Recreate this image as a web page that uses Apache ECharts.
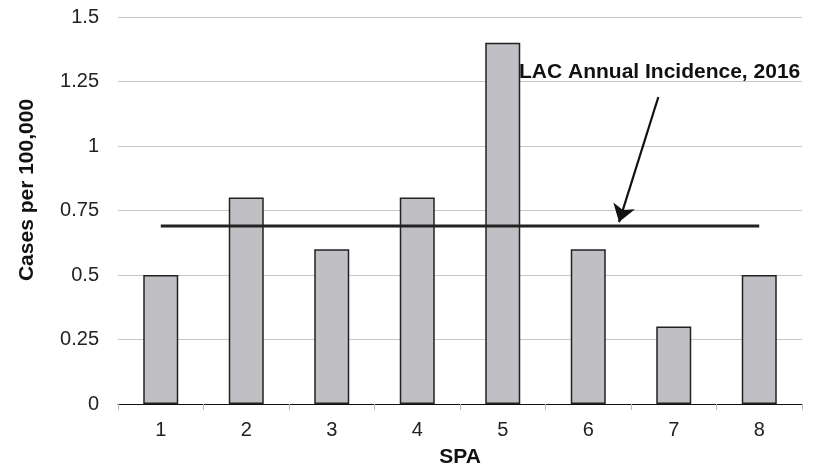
<!DOCTYPE html>
<html><head><meta charset="utf-8">
<script src="https://cdn.jsdelivr.net/npm/echarts@6/dist/echarts.min.js"></script>
<style>html,body{margin:0;padding:0;background:#fff}#c{width:813px;height:470px}</style>
</head><body><div id="c"></div>
<script>
const categories = ['1','2','3','4','5','6','7','8'];
const casesPer100k = [0.5, 0.8, 0.6, 0.8, 1.4, 0.6, 0.3, 0.5];
const lacAnnualIncidence = 0.69;
const yTicks = [0, 0.25, 0.5, 0.75, 1, 1.25, 1.5];
const annotationText = 'LAC Annual Incidence, 2016';
// arrow in data space (category position, value)
const arrowFrom = [5.82, 1.19];
const arrowTo = [5.36, 0.705];

const FONT = '"Liberation Sans", Arial, sans-serif';
const chart = echarts.init(document.getElementById('c'));
chart.setOption({
  animation: false,
  grid: {left: 118, right: 11, top: 17, bottom: 66, outerBoundsMode: 'none', containLabel: false},
  xAxis: [{
    type: 'category', data: categories,
    axisLine: {lineStyle: {color: '#111', width: 1.2}},
    axisTick: {show: true, length: 6, lineStyle: {color: '#bbb'}},
    axisLabel: {color: '#222', fontSize: 20, fontFamily: FONT, margin: 16},
    name: 'SPA', nameLocation: 'middle', nameGap: 43,
    nameTextStyle: {fontSize: 21, fontWeight: 'bold', color: '#111', fontFamily: FONT}
  }, {
    type: 'value', min: -0.5, max: 7.5, show: false
  }],
  yAxis: {
    type: 'value', min: 0, max: 1.5, interval: 0.25,
    axisLine: {show: false}, axisTick: {show: false},
    splitLine: {lineStyle: {color: '#c6c6c6', width: 1.2}},
    axisLabel: {color: '#222', fontSize: 20, fontFamily: FONT, margin: 19,
      formatter: v => String(yTicks.find(t => Math.abs(t - v) < 1e-9) ?? v)}
  },
  graphic: [
    {type: 'text', x: 519, y: 72, style: {text: annotationText, font: 'bold 21px ' + FONT, fill: '#111', verticalAlign: 'middle'}},
    {type: 'text', x: 27, y: 190, rotation: Math.PI / 2, style: {text: 'Cases per 100,000', font: 'bold 21px ' + FONT, fill: '#111', align: 'center', verticalAlign: 'middle'}}
  ],
  series: [{
    type: 'bar', data: casesPer100k, barWidth: 35,
    itemStyle: {color: '#c0c0c4', borderColor: '#222', borderWidth: 1.5}
  }, {
    type: 'line', data: categories.map(() => lacAnnualIncidence),
    symbol: 'none', lineStyle: {color: '#222', width: 3}, z: 5
  }, {
    type: 'lines', coordinateSystem: 'cartesian2d', xAxisIndex: 1, yAxisIndex: 0,
    symbol: ['none', 'arrow'], symbolSize: [13, 17],
    lineStyle: {color: '#111', width: 2.2, opacity: 1, curveness: 0},
    data: [{coords: [arrowFrom, arrowTo]}], z: 6
  }]
});
</script></body></html>
